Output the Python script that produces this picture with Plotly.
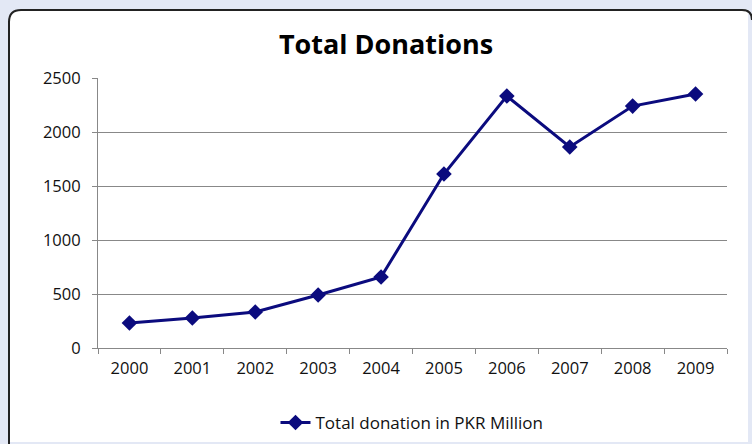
import plotly.graph_objects as go

years = ["2000", "2001", "2002", "2003", "2004", "2005", "2006", "2007", "2008", "2009"]
donations = [231, 278, 333, 491, 657, 1611, 2333, 1861, 2240, 2352]
series_name = "Total donation in PKR Million"
y_ticks = [0, 500, 1000, 1500, 2000, 2500]

W, H = 752, 444
L, R, T, B = 98, 25, 78, 96
pw, ph = W - L - R, H - T - B

def px(x):
    return (x - L) / pw

def py(y):
    return (H - B - y) / ph

navy = "#0b0b7e"
FONT = "Open Sans, Lato, sans-serif"

fig = go.Figure()
fig.add_trace(go.Scatter(
    x=years, y=donations, name=series_name, mode="lines+markers",
    line=dict(color=navy, width=3),
    marker=dict(symbol="diamond", size=12, color=navy),
    showlegend=True,
))

panel = (f"M {px(9)} {py(442)} L {px(9)} {py(22)} Q {px(9)} {py(10)} {px(21)} {py(10)} "
         f"L {px(748)} {py(10)} L {px(748)} {py(442)} Z")
border = (f"M {px(9)} {py(446)} L {px(9)} {py(22)} Q {px(9)} {py(10)} {px(21)} {py(10)} "
          f"L {px(742)} {py(10)} Q {px(752)} {py(10)} {px(752)} {py(20)}")

fig.update_layout(
    width=W, height=H,
    margin=dict(l=L, r=R, t=T, b=B, autoexpand=False),
    paper_bgcolor="#e3e8f5",
    plot_bgcolor="rgba(0,0,0,0)",
    font=dict(family=FONT, size=16, color="#111"),
    title=dict(text="<b>Total Donations</b>", x=386 / W, xanchor="center",
               y=1 - 45 / H, yanchor="middle",
               font=dict(size=27, color="#000", family=FONT)),
    shapes=[
        dict(type="path", path=panel, xref="paper", yref="paper",
             fillcolor="white", line=dict(width=0), layer="below"),
        dict(type="path", path=border, xref="paper", yref="paper",
             line=dict(color="#222", width=2), layer="below"),
    ],
    xaxis=dict(
        type="category", range=[-0.5, len(years) - 0.5], showgrid=False,
        showline=True, linecolor="#888", linewidth=1,
        ticks="outside", tickson="boundaries", ticklen=5, tickcolor="#888",
        ticklabelstandoff=5,
        tickfont=dict(size=16.5, color="#111"),
    ),
    yaxis=dict(
        range=[0, 2500], tickvals=y_ticks, showgrid=True, gridcolor="#888", gridwidth=1,
        showline=True, linecolor="#888", linewidth=1, zeroline=False,
        ticks="outside", ticklen=5, tickcolor="#888", ticklabelstandoff=8,
        tickfont=dict(size=16.5, color="#111"),
    ),
    legend=dict(orientation="h", x=px(412), xanchor="center", y=py(423), yanchor="middle",
                bgcolor="rgba(0,0,0,0)", font=dict(size=17, color="#111")),
)

fig.write_html("out.html", config={"displayModeBar": False},
               post_script="document.body.style.margin='0';document.body.style.overflow='hidden';")
